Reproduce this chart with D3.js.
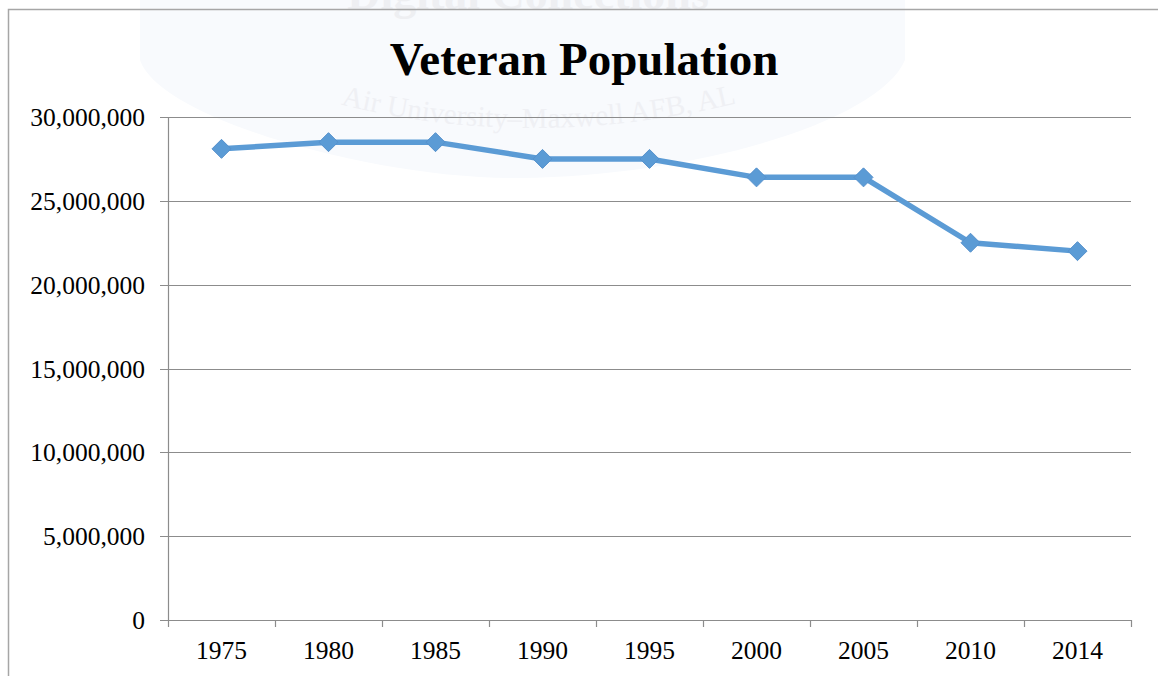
<!DOCTYPE html>
<html>
<head>
<meta charset="utf-8">
<script src="https://cdn.jsdelivr.net/npm/d3@7"></script>
<style>
  html, body { margin: 0; padding: 0; background: #fff; }
  svg { display: block; }
  text { font-family: "Liberation Serif", "Times New Roman", serif; }
</style>
</head>
<body>
<svg id="chart" width="1158" height="676"></svg>
<script>
// Veteran population by year
const years = ["1975", "1980", "1985", "1990", "1995", "2000", "2005", "2010", "2014"];
const veterans = [28100000, 28500000, 28500000, 27500000, 27500000, 26400000, 26400000, 22500000, 22000000];
const yTicks = [0, 5000000, 10000000, 15000000, 20000000, 25000000, 30000000];
const titleText = "Veteran Population";

const svg = d3.select("#chart");
const W = 1158, H = 676;
const plot = { left: 168, right: 1131, top: 117, bottom: 620 };

// faint archive watermark behind the chart
const wm = svg.append("g").attr("class", "watermark");
wm.append("path")
  .attr("d", "M140,0 L140,60 C160,120 380,180 520,178 C700,176 880,120 905,60 L905,0 Z")
  .attr("fill", "#f8fafd");
wm.append("text")
  .attr("x", 528).attr("y", 9)
  .attr("text-anchor", "middle")
  .attr("font-size", 46).attr("font-weight", "bold")
  .attr("fill", "#eeeff2")
  .text("Digital Collections");
wm.append("path")
  .attr("id", "wmArc")
  .attr("d", "M278,86 Q525,170 800,86")
  .attr("fill", "none");
wm.append("text")
  .attr("font-size", 29)
  .attr("fill", "#eff0f4")
  .append("textPath")
  .attr("href", "#wmArc")
  .attr("startOffset", "50%")
  .attr("text-anchor", "middle")
  .text("Air University\u2013Maxwell AFB, AL");

// outer chart frame (top and left edges)
svg.append("path")
  .attr("d", `M8.5,${H} L8.5,9.5 L${W},9.5`)
  .attr("fill", "none")
  .attr("stroke", "#a6a6a6")
  .attr("stroke-width", 1.5);

const x = d3.scaleBand().domain(years).range([plot.left, plot.right]);
const y = d3.scaleLinear().domain([0, 30000000]).range([plot.bottom, plot.top]);

// horizontal gridlines + y tick marks
svg.append("g")
  .selectAll("line")
  .data(yTicks)
  .join("line")
  .attr("x1", plot.left - 8)
  .attr("x2", plot.right)
  .attr("y1", d => Math.round(y(d)) + 0.5)
  .attr("y2", d => Math.round(y(d)) + 0.5)
  .attr("stroke", "#8c8c8c")
  .attr("stroke-width", 1.2);

// y axis labels
const fmt = d3.format(",");
svg.append("g")
  .selectAll("text")
  .data(yTicks)
  .join("text")
  .attr("x", 145)
  .attr("y", d => y(d) + 9)
  .attr("text-anchor", "end")
  .attr("font-size", 25.5)
  .attr("fill", "#000")
  .text(d => fmt(d));

// y axis line
svg.append("line")
  .attr("x1", plot.left + 0.5).attr("x2", plot.left + 0.5)
  .attr("y1", plot.top).attr("y2", plot.bottom)
  .attr("stroke", "#8c8c8c").attr("stroke-width", 1.2);

// x axis: tick marks at band boundaries, labels centred in each band
const xg = svg.append("g").attr("transform", `translate(0,${plot.bottom})`);
const bounds = years.map(d => x(d)).concat([x(years[years.length - 1]) + x.bandwidth()]);
xg.selectAll("line.tick-mark")
  .data(bounds)
  .join("line")
  .attr("class", "tick-mark")
  .attr("x1", d => Math.round(d) + 0.5)
  .attr("x2", d => Math.round(d) + 0.5)
  .attr("y1", 0).attr("y2", 7)
  .attr("stroke", "#8c8c8c").attr("stroke-width", 1.2);
xg.selectAll("text.xl")
  .data(years)
  .join("text")
  .attr("class", "xl")
  .attr("x", d => x(d) + x.bandwidth() / 2)
  .attr("y", 39)
  .attr("text-anchor", "middle")
  .attr("font-size", 25.5)
  .attr("fill", "#000")
  .text(d => d);

// series line
const pts = years.map((yr, i) => [x(yr) + x.bandwidth() / 2, y(veterans[i])]);
svg.append("path")
  .datum(pts)
  .attr("d", d3.line())
  .attr("fill", "none")
  .attr("stroke", "#5b9bd5")
  .attr("stroke-width", 5.5)
  .attr("stroke-linejoin", "round");

// diamond markers
const r = 9.5;
svg.append("g")
  .selectAll("path")
  .data(pts)
  .join("path")
  .attr("d", d => `M${d[0]},${d[1] - r} L${d[0] + r},${d[1]} L${d[0]},${d[1] + r} L${d[0] - r},${d[1]} Z`)
  .attr("fill", "#5b9bd5")
  .attr("stroke", "#5691cc")
  .attr("stroke-width", 1);

// title
svg.append("text")
  .attr("x", 584)
  .attr("y", 75)
  .attr("text-anchor", "middle")
  .attr("font-size", 47)
  .attr("font-weight", "bold")
  .attr("fill", "#000")
  .text(titleText);
</script>
</body>
</html>
